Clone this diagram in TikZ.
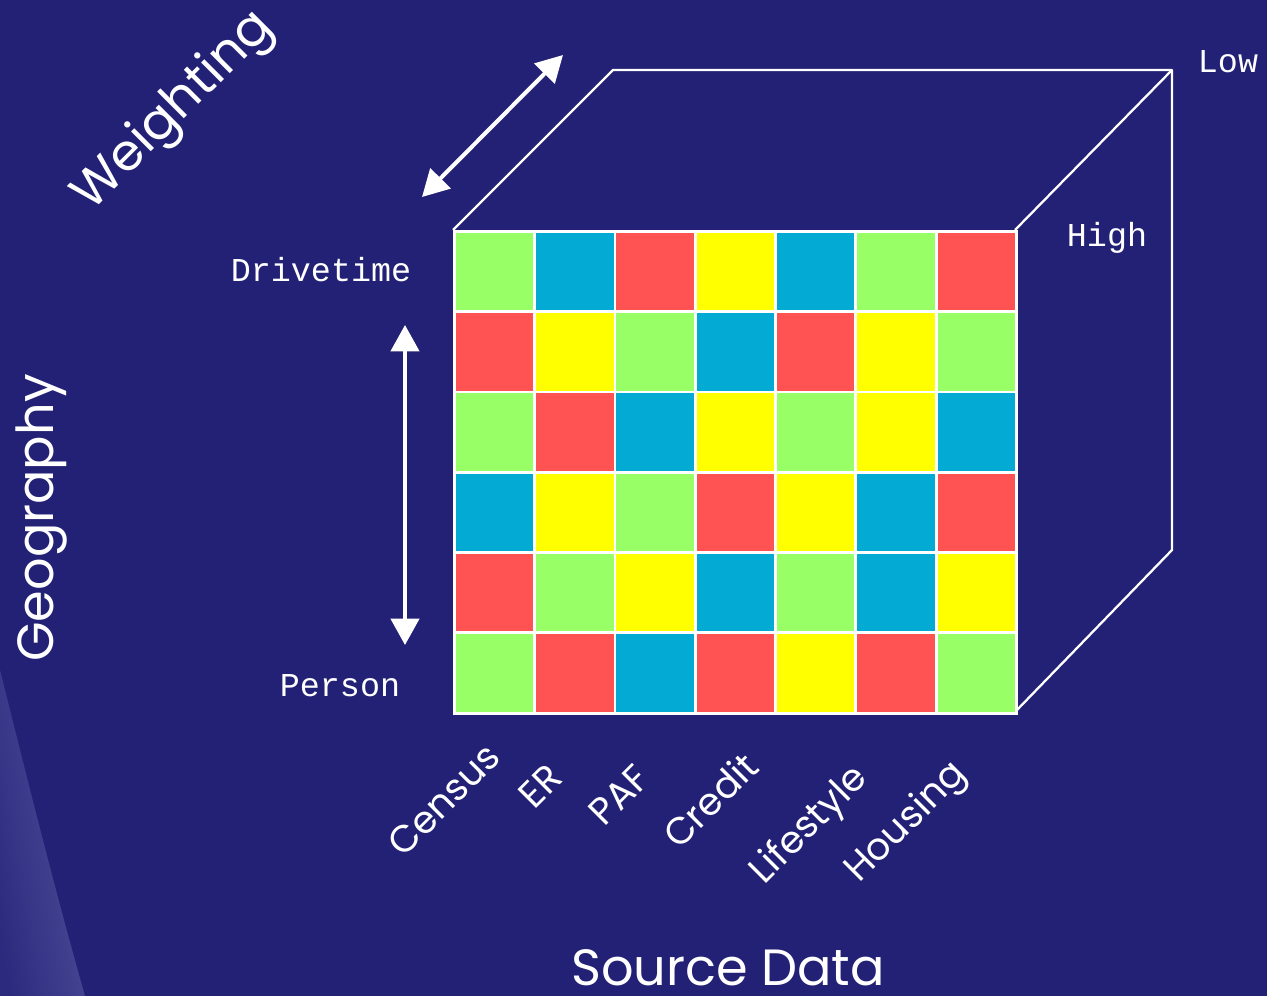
\documentclass[tikz,border=0pt]{standalone}
\usepackage{fontspec}
\setmainfont{Liberation Serif}
\newfontfamily\gothic{Poppins}
\newfontfamily\slab{Liberation Mono}
\usetikzlibrary{arrows.meta,positioning,calc}
\definecolor{CubeNavy}{HTML}{232175}
\definecolor{CubeSheenDark}{HTML}{2C2A7E}
\definecolor{CubeSheenLight}{HTML}{52529C}
\definecolor{CubeG}{HTML}{99FF66}
\definecolor{CubeB}{HTML}{02AAD4}
\definecolor{CubeR}{HTML}{FF5252}
\definecolor{CubeY}{HTML}{FFFF00}

\begin{document}
\begin{tikzpicture}[x=0.02cm,y=-0.02cm]
  \tikzset{
    cell/.style={draw=white,line width=1.6pt,minimum size=1.606cm,inner sep=0pt,anchor=north west},
    edge/.style={white,line width=1.3pt,line join=round},
    axisarrow/.style={{Triangle[length=15pt,width=16pt]}-{Triangle[length=15pt,width=16pt]},white,line width=2.3pt},
    bigtitle/.style={white,font=\gothic\fontsize{29}{31}\selectfont},
    source/.style={white,font=\gothic\fontsize{21.5}{23}\selectfont,rotate=45},
    level/.style={white,font=\slab\fontsize{19}{21}\selectfont}
  }
  % background and sheen
  \useasboundingbox (0,0) rectangle (1267,996);
  \fill[CubeNavy] (0,0) rectangle (1267,996);
  \shade[left color=CubeSheenDark,right color=CubeSheenLight,shading angle=100]
    (0,670) .. controls (30,790) and (55,890) .. (85,996) -- (0,996) -- cycle;

  % cube
  \coordinate (ftl) at (453,230);
  \coordinate (ftr) at (1015,230);
  \coordinate (fbr) at (1015,712);
  \coordinate (btl) at (613,70);
  \coordinate (btr) at (1172,70);
  \coordinate (bbr) at (1172,550);
  \draw[edge] (ftl) -- (btl) -- (btr) -- (bbr) -- (fbr);
  \draw[edge] (ftr) -- (btr);

  % front face
  \foreach \row [count=\r from 0] in {{G,B,R,Y,B,G,R},{R,Y,G,B,R,Y,G},{G,R,B,Y,G,Y,B},
                                      {B,Y,G,R,Y,B,R},{R,G,Y,B,G,B,Y},{G,R,B,R,Y,R,G}}
    \foreach \c [count=\k from 0] in \row
      \node[cell,fill=Cube\c] (cell-\r-\k) at ({453+80.3*\k},{230+80.3*\r}) {};

  % axes
  \coordinate (wlow) at (422,197);
  \coordinate (whigh) at (563,55);
  \draw[axisarrow] (wlow) -- (whigh);
  \coordinate (gtop) at (405,325);
  \coordinate (gbot) at (405,645);
  \draw[axisarrow] (gtop) -- (gbot);

  % labels
  \node[bigtitle,rotate=45] (weighting) at (174,112) {Weighting};
  \node[bigtitle,rotate=90] (geography) at (42,518) {Geography};
  \node[bigtitle] (sourcedata) at (728,968) {Source Data};
  \node[level] (drivetime) at (321,270) {Drivetime};
  \node[level] (person) at (340,686) {Person};
  \node[level] (high) at (1107,238) {High};
  \node[level] (low) at (1228,62) {Low};
  \node[source] (census) at (444,800) {Census};
  \node[source] (er) at (540,786) {ER};
  \node[source] (paf) at (619,795) {PAF};
  \node[source] (credit) at (710,800) {Credit};
  \node[source] (lifestyle) at (810,826) {Lifestyle};
  \node[source] (housing) at (907,823) {Housing};
\end{tikzpicture}
\end{document}
